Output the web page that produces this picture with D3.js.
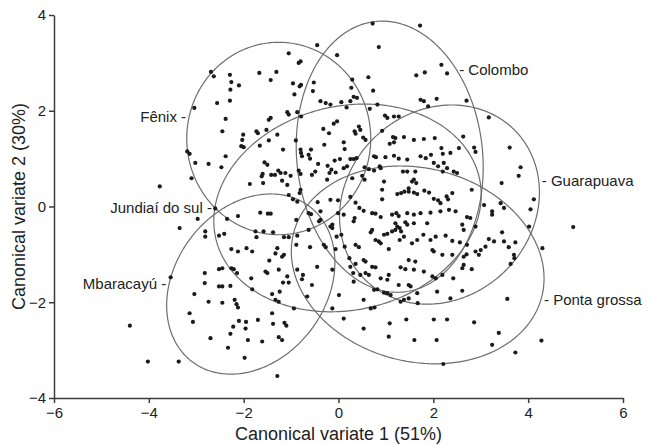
<!DOCTYPE html>
<meta charset="utf-8">
<title>Canonical variates</title>
<style>
body { margin: 0; background: #fff; }
svg { display: block; font-family: "Liberation Sans", Arial, sans-serif; }
.axis path, .axis line { stroke: #3c3c3c; stroke-width: 1.5px; }
.axis text { font-size: 15px; fill: #222; font-family: "Liberation Sans", Arial, sans-serif; }
.ellipse { fill: none; stroke: #6e6e6e; stroke-width: 1.2px; }
.dot { fill: #1b1b1b; }
.glabel { font-size: 15px; fill: #222; }
.title { font-size: 18px; fill: #222; }
</style>
<svg id="chart" width="648" height="445"></svg>
<script src="https://d3js.org/d3.v7.min.js"></script>
<script>
// groups and their 95% ellipses (data units, angle in degrees)
const groups = ["Fênix", "Colombo", "Guarapuava", "Jundiaí do sul", "Mbaracayú", "Ponta grossa"];
const ellCx = [-1.26, 1.08, 2.13, 0.19, -1.85, 1.67];
const ellCy = [1.42, 1.04, 0.04, -0.03, -1.62, -1.22];
const ellA = [1.94, 2.84, 2.22, 2.85, 2.04, 2.70];
const ellB = [2.01, 1.96, 1.96, 2.13, 1.59, 2.02];
const ellAngle = [0, 96, 42, 12.6, 52, -14];
// where each name is hung on its ellipse
const labelY = [1.86, 2.86, 0.54, 0.0, -1.60, -1.95];
const labelSide = ["left", "right", "right", "left", "left", "right"];

const xTicks = [-6, -4, -2, 0, 2, 4, 6];
const yTicks = [-4, -2, 0, 2, 4];

// individual scores [cv1, cv2]
const points = [
  [0.72,3.82],[1.72,3.78],[0.85,3.33],[-0.45,3.37],[-0.03,3.16],[-1.05,3.20],[-0.84,3.00],[-0.80,3.03],
  [-2.69,2.81],[-2.63,2.72],[-2.29,2.75],[-1.67,2.79],[-1.31,2.81],[-1.43,2.64],[-2.26,2.60],[-2.10,2.53],[-2.28,2.44],[-2.29,2.21],[-2.56,2.16],[-3.04,2.06],
  [-0.96,2.57],[-0.82,2.51],[-0.79,2.54],[-0.52,2.59],[-0.54,2.41],[-0.93,2.34],[0.29,2.65],[0.27,2.48],[0.63,2.70],[0.73,2.42],[0.32,2.29],
  [1.64,2.74],[1.82,2.80],[2.17,2.96],[2.29,2.78],
  [-0.38,2.20],[-0.27,2.16],[-0.17,2.13],[0.06,2.18],[0.17,2.07],[0.25,2.20],[0.39,2.27],[0.66,2.04],[0.82,2.13],[0.98,1.90],[1.03,1.85],[1.17,1.88],[1.27,1.88],
  [1.73,2.23],[1.80,2.20],[1.89,2.09],[2.07,2.25],[2.70,2.21],[3.17,1.86],[3.61,1.23],[3.84,0.82],[3.80,0.64],[3.44,0.49],[2.86,1.23],[2.89,1.14],[2.63,1.46],[2.54,1.22],
  [-2.38,1.83],[-2.45,1.57],[-2.01,1.50],[-1.73,1.57],[-1.70,1.53],[-1.52,1.60],[-1.47,1.81],[-1.43,1.85],[-1.29,1.50],[-1.08,1.97],[-1.05,1.92],[-0.87,1.97],[-0.79,1.88],
  [-3.19,1.15],[-3.14,1.10],[-3.02,0.91],[-2.74,0.89],[-2.47,0.82],[-2.38,1.05],[-2.05,1.26],[-2.00,1.24],[-2.03,1.39],[-1.66,1.27],[-1.47,1.38],[-1.17,1.19],[-0.90,1.38],[-0.80,1.19],[-0.79,1.12],[-0.58,1.19],[-0.63,1.08],
  [-0.30,1.29],[-0.20,1.53],[-0.10,1.73],[-0.03,1.78],[-0.32,1.62],[0.11,1.34],[0.13,1.20],[0.34,1.57],[0.36,1.52],[0.43,1.67],[0.46,1.60],[0.52,1.44],[0.57,1.39],
  [0.25,0.99],[0.32,0.99],[0.38,1.01],[0.03,0.99],[-0.08,0.96],[-0.23,0.85],[-0.43,0.89],[-0.60,1.00],[-0.77,1.05],
  [-1.56,0.92],[-1.50,0.87],[-1.27,0.75],[-1.22,0.70],[-1.34,0.66],[-1.42,0.66],[-1.12,0.70],[-1.01,0.64],[-1.60,0.68],[-1.62,0.63],[-1.87,0.47],[-1.19,0.54],
  [-0.84,0.75],[-0.80,0.68],[-0.49,0.73],[-0.56,0.66],[-0.15,0.77],[-0.19,0.70],[-0.06,0.71],[0.11,0.80],[0.18,0.84],[0.55,0.82],[0.64,0.78],[0.50,0.64],[0.75,0.75],[0.87,0.84],
  [1.15,1.45],[1.20,1.43],[1.17,1.34],[1.08,1.31],[1.38,1.45],[0.92,1.58],[1.59,1.39],[1.80,1.41],[2.03,1.43],
  [0.75,1.05],[0.79,1.03],[0.99,1.03],[1.17,1.06],[1.27,1.00],[1.45,0.98],[1.73,1.05],[1.84,1.01],[1.95,1.08],[2.17,1.22],[2.20,1.10],[2.22,0.91],[2.36,1.12],[2.01,0.91],[2.10,0.84],[2.29,0.80],[2.43,0.73],[2.50,0.70],[2.20,0.73],
  [0.89,0.80],[1.36,0.73],[1.45,0.73],[1.62,0.73],[1.59,0.56],[1.64,0.49],
  [-1.59,0.49],[-1.08,0.45],[0.29,0.59],[0.55,0.56],[-0.80,0.35],[-1.05,0.24],[-0.82,0.28],[-0.24,0.56],[0.96,0.52],[1.55,0.52],[1.48,0.38],[-3.77,0.42],[-3.10,0.59],
  [-2.60,-0.04],[-2.97,-0.26],[-3.35,-0.45],[-2.35,-0.26],[-2.12,-0.20],[-1.65,-0.13],[-1.49,-0.15],[-1.43,-0.15],
  [-2.81,-0.52],[-2.81,-0.63],[-2.52,-0.61],[-2.41,-0.57],[-2.26,-0.89],[-2.12,-0.94],[-1.94,-0.87],[-1.82,-0.94],
  [-1.75,-0.52],[-1.73,-0.64],[-1.58,-0.52],[-1.38,-0.54],[-1.29,-0.87],[-1.33,-0.98],[-1.46,-1.13],[-1.15,-0.64],[-1.05,-0.64],[-0.89,-0.28],[-0.87,-0.61],
  [-1.54,-1.36],[-1.50,-1.39],[-1.26,-1.32],[-1.08,-1.46],[-0.87,-1.32],[-0.75,-1.43],[-0.77,-1.52],[-0.56,-1.64],[-0.66,-1.88],
  [-1.05,-1.59],[-1.17,-1.59],[-1.24,-1.78],[-1.40,-1.83],[-1.33,-1.95],[-1.26,-1.99],[-1.82,-1.73],
  [-2.28,-1.66],[-2.45,-1.67],[-2.52,-1.67],[-2.82,-1.39],[-2.82,-1.60],[-2.52,-1.31],[-2.45,-1.29],[-2.26,-1.29],[-2.21,-1.31],[-2.14,-1.39],[-1.84,-1.50],
  [-3.54,-1.48],[-3.04,-1.83],[-2.74,-1.99],[-2.45,-2.01],[-2.19,-1.95],[-2.15,-2.04],[-2.12,-2.11],[-3.14,-2.23],[-3.07,-2.41],
  [-2.70,-2.75],[-2.28,-2.66],[-2.22,-2.51],[-2.10,-2.39],[-1.95,-2.41],[-1.96,-2.55],[-1.91,-2.79],[-1.70,-2.37],[-1.61,-2.82],[-1.40,-2.23],[-1.38,-2.45],[-1.14,-2.43],[-1.10,-2.49],[-1.26,-2.73],[-1.19,-2.79],
  [-2.33,-2.95],[-1.98,-3.16],[-3.37,-3.24],[-1.29,-3.54],[-0.94,-2.13],[-4.40,-2.49],[-4.02,-3.24],
  [-0.96,0.15],[-0.87,0.10],[-0.44,0.09],[-0.17,0.14],[-0.01,0.13],[0.25,0.20],[0.36,0.08],[0.44,-0.03],[0.53,-0.09],[0.92,0.35],[0.92,0.15],
  [1.24,0.26],[1.32,0.28],[1.39,0.31],[1.48,0.31],[1.59,0.29],[1.66,0.26],[1.81,0.33],[1.91,0.29],[2.01,0.16],[2.10,0.13],[2.15,0.07],[2.28,0.21],[2.31,0.15],[2.40,0.28],[2.81,0.35],
  [3.07,0.03],[3.24,-0.10],[3.24,-0.17],[3.42,0.07],[3.49,-0.03],[4.05,-0.06],[4.12,0.15],[4.02,-0.42],[4.30,-0.87],
  [-0.63,-0.14],[-0.58,-0.16],[-0.41,-0.31],[-0.38,-0.28],[-0.13,-0.38],[-0.13,-0.45],[-0.01,-0.14],[0.11,-0.17],[0.34,-0.24],[0.32,-0.31],[0.71,-0.14],[0.78,-0.15],[0.89,-0.22],[1.13,-0.17],[1.22,-0.14],[1.27,-0.20],[1.45,-0.14],[1.59,-0.17],[1.73,-0.14],[1.94,-0.13],[2.15,-0.10],[2.33,-0.07],[2.47,-0.10],[2.71,-0.22],[2.78,-0.24],
  [1.20,-0.35],[1.24,-0.42],[1.29,-0.45],[1.41,-0.33],[1.45,-0.38],[1.59,-0.35],[1.87,-0.35],[2.61,-0.38],[2.64,-0.49],[2.89,-0.42],
  [0.71,-0.49],[0.68,-0.54],[0.96,-0.59],[1.03,-0.57],[1.13,-0.52],[1.20,-0.49],[0.78,-0.70],[0.85,-0.73],[0.89,-0.77],[1.06,-0.89],
  [1.32,-0.52],[1.38,-0.63],[1.29,-0.70],[1.55,-0.77],[1.66,-0.70],[1.79,-0.59],[1.94,-0.70],[2.05,-0.63],[2.26,-0.61],[2.40,-0.72],[2.56,-0.75],
  [1.98,-0.91],[2.01,-0.94],[2.19,-1.01],[2.40,-1.01],[2.64,-1.05],[2.70,-1.00],[2.89,-0.94],[3.00,-0.91],[2.96,-1.01],[3.17,-0.68],[3.28,-0.73],[3.49,-0.73],[3.59,-0.85],[3.73,-0.75],[3.70,-1.01],[3.71,-1.08],[3.63,-1.20],[3.45,-0.54],[3.10,-0.84],[2.71,-0.80],[2.81,-1.31],
  [0.25,-1.26],[0.36,-1.20],[0.53,-1.12],[0.57,-1.15],[0.46,-1.43],[0.57,-1.39],[0.64,-1.43],[0.71,-1.26],[0.78,-1.27],[0.89,-1.50],[1.06,-1.43],[1.03,-1.53],[1.31,-1.27],[1.41,-1.31],[1.48,-1.12],[1.62,-1.15],[1.27,-1.64],[1.48,-1.64],[1.52,-1.67],[1.59,-1.32],[1.80,-1.36],[1.98,-1.46],[2.05,-1.50],[2.19,-1.43],[2.42,-1.50],[2.61,-1.29],[2.64,-1.22],[2.61,-1.76],[2.36,-1.92],[2.08,-1.78],[1.66,-1.81],[1.67,-2.02],[1.48,-1.92],[1.31,-1.99],[1.38,-1.95],[1.03,-1.81],[1.10,-1.85],[0.96,-1.80],[0.75,-1.74],[0.82,-1.73],[0.53,-1.95],[0.68,-2.13],[0.76,-2.11],[0.32,-1.57],[0.31,-1.39],[0.01,-1.85],[-0.13,-2.13],[0.11,-2.34],[0.53,-2.55],[1.08,-2.44],[1.43,-2.36],[1.06,-2.72],[1.60,-2.79],[2.07,-2.79],[2.01,-2.36],[2.29,-2.36],[2.86,-2.42],[3.38,-2.64],[3.24,-2.89],[3.73,-3.05],[4.28,-2.80],[2.21,-3.29],[3.56,-1.93],[4.95,-0.43],
  [-0.38,-0.10],[-0.63,-0.49],[-0.60,-0.85],[-0.31,-0.80],[-0.27,-0.85],[-0.17,-0.42],[-0.06,-0.89],[0.13,-0.84],[-0.04,-0.63],[0.06,-0.59],[0.36,-0.80],[0.43,-0.85],[0.23,-1.08],[-0.45,-1.26],[-0.13,-1.32],[-0.89,-0.80],[-1.15,-1.01],[-1.19,-1.05]
];

let svg = d3.select("#chart");

let x = d3.scaleLinear().domain([-6, 6]).range([54, 623]),
    y = d3.scaleLinear().domain([-4, 4]).range([398, 15]);

// ellipse outline sampled in data space
function ellipsePoints(i) {
  let th = ellAngle[i] * Math.PI / 180, pts = [];
  for (let k = 0; k < 360; k++) {
    let t = k * Math.PI / 180;
    let ex = ellA[i] * Math.cos(t), ey = ellB[i] * Math.sin(t);
    pts.push([ellCx[i] + ex * Math.cos(th) - ey * Math.sin(th),
              ellCy[i] + ex * Math.sin(th) + ey * Math.cos(th)]);
  }
  return pts;
}

let line = d3.line()
  .curve(d3.curveLinearClosed)
  .x(d => x(d[0]))
  .y(d => y(d[1]));

let ell = svg.append("g");
groups.forEach((name, i) => {
  let pts = ellipsePoints(i);
  ell.append("path").attr("class", "ellipse").attr("d", line(pts));

  // anchor: point on the requested side closest to the label height
  let side = labelSide[i] === "left" ? -1 : 1;
  let cand = pts.filter(p => (p[0] - ellCx[i]) * side > 0);
  let best = d3.least(cand, p => Math.abs(p[1] - labelY[i]));
  let ax = x(best[0]), ay = y(best[1]);
  ell.append("text")
    .attr("class", "glabel")
    .attr("x", ax + side * 3)
    .attr("y", ay)
    .attr("dy", "0.35em")
    .attr("text-anchor", side < 0 ? "end" : "start")
    .text(side < 0 ? name + " -" : "- " + name);
});

svg.append("g").selectAll("circle")
  .data(points)
  .enter().append("circle")
    .attr("class", "dot")
    .attr("cx", d => x(d[0]))
    .attr("cy", d => y(d[1]))
    .attr("r", 2.1);

svg.append("g")
    .attr("class", "axis")
    .attr("transform", "translate(0," + y(-4) + ")")
    .call(d3.axisBottom(x).tickValues(xTicks).tickSize(5).tickSizeOuter(0).tickPadding(4));

svg.append("g")
    .attr("class", "axis")
    .attr("transform", "translate(" + x(-6) + ",0)")
    .call(d3.axisLeft(y).tickValues(yTicks).tickSize(5).tickSizeOuter(0).tickPadding(3));

svg.append("text")
    .attr("class", "title")
    .attr("x", (x(-6) + x(6)) / 2)
    .attr("y", 440)
    .attr("text-anchor", "middle")
    .text("Canonical variate 1 (51%)");

svg.append("text")
    .attr("class", "title")
    .attr("transform", "translate(25," + y(0) + ") rotate(-90)")
    .attr("text-anchor", "middle")
    .text("Canonical variate 2 (30%)");
</script>
